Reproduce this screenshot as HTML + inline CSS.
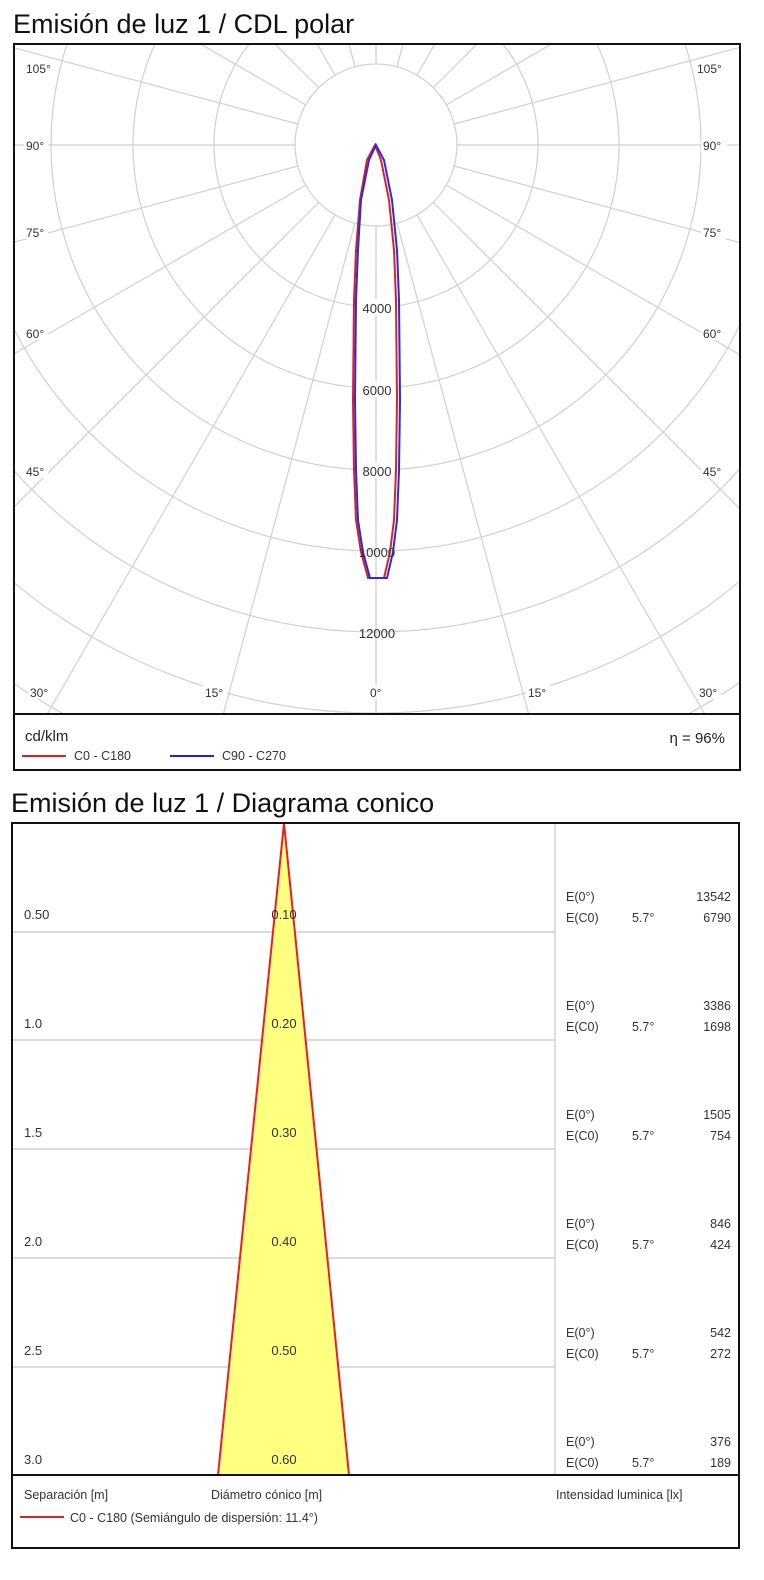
<!DOCTYPE html>
<html><head><meta charset="utf-8"><style>
html,body{margin:0;padding:0;background:#fff}
svg{display:block}
text{font-family:"Liberation Sans",Arial,sans-serif}
</style></head><body>
<svg width="764" height="1580" viewBox="0 0 764 1580" xmlns="http://www.w3.org/2000/svg">
<defs><clipPath id="c1"><rect x="15" y="45" width="724" height="668"/></clipPath></defs>
<text x="13" y="33" font-size="27" fill="#111">Emisión de luz 1 / CDL polar</text>
<g clip-path="url(#c1)" stroke="#d0d0d0" stroke-width="1.2" fill="none">
<circle cx="376" cy="145" r="81"/>
<circle cx="376" cy="145" r="162"/>
<circle cx="376" cy="145" r="243"/>
<circle cx="376" cy="145" r="325"/>
<circle cx="376" cy="145" r="406"/>
<circle cx="376" cy="145" r="487"/>
<circle cx="376" cy="145" r="568"/>
<circle cx="376" cy="145" r="649"/>
<circle cx="376" cy="145" r="730"/>
<g id="rad">
<line x1="376" y1="226" x2="376" y2="1000"/>
<line x1="355" y1="223" x2="117" y2="1111"/>
<line x1="335" y1="215" x2="-124" y2="1011"/>
<line x1="319" y1="202" x2="-331" y2="852"/>
<line x1="306" y1="185" x2="-490" y2="645"/>
<line x1="298" y1="166" x2="-590" y2="404"/>
<line x1="295" y1="145" x2="-625" y2="145"/>
<line x1="298" y1="124" x2="-590" y2="-114"/>
<line x1="306" y1="105" x2="-490" y2="-355"/>
<line x1="319" y1="88" x2="-331" y2="-562"/>
<line x1="335" y1="75" x2="-124" y2="-721"/>
<line x1="355" y1="67" x2="117" y2="-821"/>
<line x1="376" y1="64" x2="376" y2="-700"/>
</g>
<use href="#rad" transform="translate(752,0) scale(-1,1)"/>
</g>
<g fill="#fff"><rect x="356" y="299" width="42" height="16"/><rect x="356" y="381" width="42" height="16"/><rect x="356" y="462" width="42" height="16"/></g>
<path d="M375,145 L381,160 L389,200 L394,250 L396,300 L397,400 L396,470 L394,520 L390,552 L384,578 L368,578 L361,552 L356,520 L354,470 L353,400 L354,300 L356,250 L360,200 L367,160 Z" fill="none" stroke="#e02020" stroke-width="2"/>
<path d="M376,145 L384,160 L392,200 L397,250 L399,300 L400,400 L399,470 L397,520 L393,552 L387,578 L370,578 L363,552 L358,520 L356,470 L355,400 L356,300 L358,250 L361,200 L369,160 Z" fill="none" stroke="#2a2ae8" stroke-width="2"/>
<g font-size="13" fill="#333" text-anchor="middle">
<text x="377" y="313">4000</text><text x="377" y="395">6000</text><text x="377" y="476">8000</text><text x="377" y="557">10000</text><text x="377" y="638">12000</text>
</g>
<g font-size="12" fill="#333">
<g fill="#fff"><rect x="24" y="61" width="30" height="14"/><rect x="24" y="138" width="24" height="14"/><rect x="24" y="225" width="24" height="14"/><rect x="24" y="326" width="24" height="14"/><rect x="24" y="464" width="24" height="14"/><rect x="28" y="685" width="24" height="14"/><rect x="203" y="685" width="24" height="14"/><rect x="368" y="685" width="18" height="14"/><rect x="526" y="685" width="24" height="14"/><rect x="697" y="685" width="24" height="14"/>
<rect x="695" y="61" width="32" height="14"/><rect x="701" y="138" width="26" height="14"/><rect x="701" y="225" width="26" height="14"/><rect x="701" y="326" width="26" height="14"/><rect x="701" y="464" width="26" height="14"/></g>
<text x="26" y="73">105°</text><text x="26" y="150">90°</text><text x="26" y="237">75°</text><text x="26" y="338">60°</text><text x="26" y="476">45°</text>
<text x="30" y="697">30°</text><text x="205" y="697">15°</text><text x="370" y="697">0°</text><text x="528" y="697">15°</text><text x="699" y="697">30°</text>
<text x="697" y="73">105°</text><text x="703" y="150">90°</text><text x="703" y="237">75°</text><text x="703" y="338">60°</text><text x="703" y="476">45°</text>
</g>
<rect x="14" y="44" width="726" height="726" fill="none" stroke="#111" stroke-width="2"/>
<line x1="14" y1="714" x2="740" y2="714" stroke="#111" stroke-width="2"/>
<text x="25" y="741" font-size="15" fill="#222">cd/klm</text>
<text x="725" y="743" font-size="15" fill="#222" text-anchor="end">η = 96%</text>
<line x1="22" y1="756" x2="66" y2="756" stroke="#e02020" stroke-width="2"/>
<text x="74" y="760" font-size="12.5" fill="#333">C0 - C180</text>
<line x1="170" y1="756" x2="214" y2="756" stroke="#2020e0" stroke-width="2"/>
<text x="222" y="760" font-size="12.5" fill="#333">C90 - C270</text>

<text x="11" y="812" font-size="27" fill="#111">Emisión de luz 1 / Diagrama conico</text>
<g stroke="#cfcfcf" stroke-width="1.4">
<line x1="13" y1="932" x2="555" y2="932"/><line x1="13" y1="1040" x2="555" y2="1040"/><line x1="13" y1="1149" x2="555" y2="1149"/><line x1="13" y1="1258" x2="555" y2="1258"/><line x1="13" y1="1367" x2="555" y2="1367"/>
<line x1="555" y1="823" x2="555" y2="1475"/>
</g>
<polygon points="284,823 349,1475 218,1475" fill="#ffff80" stroke="#e82020" stroke-width="2"/>
<g font-size="13" fill="#333">
<text x="24" y="919">0.50</text><text x="24" y="1028">1.0</text><text x="24" y="1137">1.5</text><text x="24" y="1246">2.0</text><text x="24" y="1355">2.5</text><text x="24" y="1464">3.0</text>
</g>
<g font-size="13" fill="#333" text-anchor="middle">
<text x="284" y="919">0.10</text><text x="284" y="1028">0.20</text><text x="284" y="1137">0.30</text><text x="284" y="1246">0.40</text><text x="284" y="1355">0.50</text><text x="284" y="1464">0.60</text>
</g>
<g font-size="12.5" fill="#333">
<g id="blk"><text x="566" y="901">E(0°)</text><text x="566" y="922">E(C0)</text><text x="632" y="922">5.7°</text></g>
<use href="#blk" transform="translate(0,109)"/><use href="#blk" transform="translate(0,218)"/><use href="#blk" transform="translate(0,327)"/><use href="#blk" transform="translate(0,436)"/><use href="#blk" transform="translate(0,545)"/>
<g text-anchor="end">
<text x="731" y="901">13542</text><text x="731" y="922">6790</text>
<text x="731" y="1010">3386</text><text x="731" y="1031">1698</text>
<text x="731" y="1119">1505</text><text x="731" y="1140">754</text>
<text x="731" y="1228">846</text><text x="731" y="1249">424</text>
<text x="731" y="1337">542</text><text x="731" y="1358">272</text>
<text x="731" y="1446">376</text><text x="731" y="1467">189</text>
</g>
<text x="24" y="1499">Separación [m]</text>
<text x="211" y="1499">Diámetro cónico [m]</text>
<text x="556" y="1499">Intensidad luminica [lx]</text>
<text x="70" y="1522">C0 - C180 (Semiángulo de dispersión: 11.4°)</text>
</g>
<line x1="20" y1="1517" x2="64" y2="1517" stroke="#e02020" stroke-width="2"/>
<rect x="12" y="823" width="727" height="725" fill="none" stroke="#111" stroke-width="2"/>
<line x1="12" y1="1475" x2="739" y2="1475" stroke="#111" stroke-width="2"/>
</svg>
</body></html>
